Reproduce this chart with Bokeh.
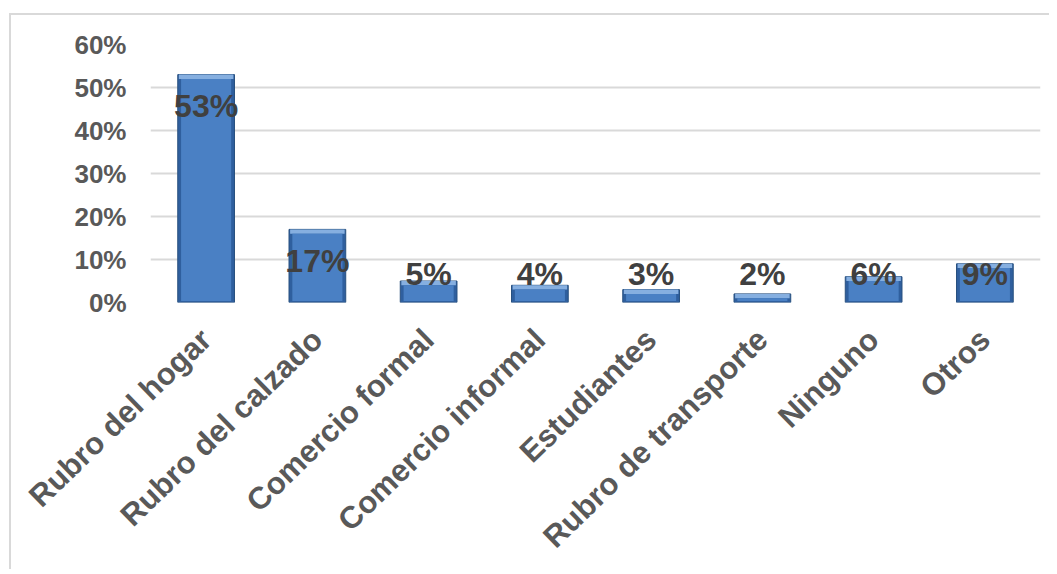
from bokeh.plotting import figure
from bokeh.models import FixedTicker, PrintfTickFormatter, ColumnDataSource, FactorRange
from bokeh.core.properties import value
from bokeh.embed import file_html
from bokeh.resources import INLINE

categories = ["Rubro del hogar", "Rubro del calzado", "Comercio formal", "Comercio informal",
              "Estudiantes", "Rubro de transporte", "Ninguno", "Otros"]
values = [53, 17, 5, 4, 3, 2, 6, 9]
labels = ["53%", "17%", "5%", "4%", "3%", "2%", "6%", "9%"]
y_ticks = [0, 10, 20, 30, 40, 50, 60]

FONT = "Liberation Sans"

W, H = 1040, 556
p = figure(x_range=FactorRange(*categories, range_padding=0), y_range=(0, 60),
           width=W, height=H, output_backend="svg", toolbar_location=None,
           min_border_left=139, min_border_right=11, min_border_top=29, min_border_bottom=269)
p.styles = {"border-top": "2px solid #D9D9D9", "border-left": "2px solid #D9D9D9",
            "margin-left": "9px", "margin-top": "13px"}
p.outline_line_color = None
p.xgrid.grid_line_color = None
p.ygrid.grid_line_color = "#D9D9D9"
p.ygrid.grid_line_width = 2
p.yaxis.ticker = FixedTicker(ticks=y_ticks)
p.yaxis.formatter = PrintfTickFormatter(format="%d%%")
for ax in (p.xaxis, p.yaxis):
    ax.axis_line_color = None
    ax.major_tick_line_color = None
    ax.minor_tick_line_color = None
    ax.major_label_text_font = FONT
    ax.major_label_text_font_style = "bold"
    ax.major_label_text_color = "#595959"
p.yaxis.major_label_text_font_size = "26px"
p.yaxis.major_label_standoff = 18
p.xaxis.major_label_text_font_size = "31px"
p.xaxis.major_label_orientation = 0.77
p.xaxis.major_label_standoff = 26

inner_top = [max(v - 1.0, 0.5) for v in values]
band_bottom = [max(v - 1.0, 0.3) for v in values]
label_y = [max(v - 7.3, 6.7) for v in values]
src = ColumnDataSource(dict(cat=categories, v=values, it=inner_top, bb=band_bottom,
                            ly=label_y, lab=labels))

p.vbar(x="cat", top=0, bottom=-0.5, width=0.55, source=src, fill_color="#BFBFBF",
       line_color=None, fill_alpha=0.6)
p.vbar(x="cat", top="v", width=0.51, source=src, fill_color="#2F5F9E", line_color="#28507F", line_width=1)
p.vbar(x="cat", top="v", bottom="bb", width=0.49, source=src, fill_color="#86AFE0", line_color=None)
p.vbar(x="cat", top="it", bottom=0.35, width=0.45, source=src, fill_color="#4A80C4", line_color=None)

p.text(x="cat", y="ly", text="lab", source=src, text_align="center", text_baseline="middle",
       text_font=value(FONT), text_font_style="bold", text_font_size="32px", text_color="#404040")

open("out.html", "w").write(file_html(p, INLINE))
